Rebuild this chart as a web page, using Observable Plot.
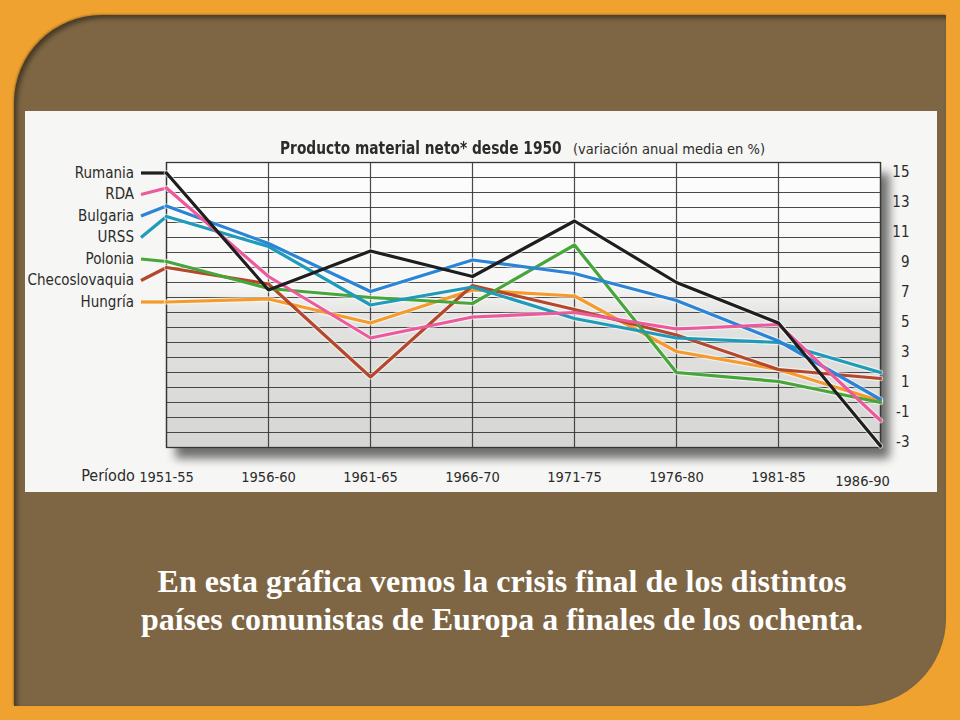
<!DOCTYPE html>
<html><head><meta charset="utf-8">
<script src="https://cdn.jsdelivr.net/npm/d3@7"></script>
<script src="https://cdn.jsdelivr.net/npm/@observablehq/plot@0.6"></script>
<style>
html,body{margin:0;padding:0;width:960px;height:720px;overflow:hidden;background:#efa22f;}
#panel{position:absolute;left:14px;top:15px;width:932px;height:691px;background:#7e6644;border-radius:88px 0 88px 0;box-shadow:inset 3px 3px 5px rgba(0,0,0,.45), -1px -1px 2px rgba(0,0,0,.25);}
#chart{position:absolute;left:25px;top:111px;width:912px;height:381px;background:#f6f6f4;}
#chart svg{position:absolute;left:0;top:0;}
.cond{font-family:"Liberation Sans Narrow","DejaVu Sans Condensed","Roboto",sans-serif;font-stretch:condensed;color:#2b2b2b;}
#title{position:absolute;left:255px;top:26px;font-size:18px;font-weight:bold;white-space:nowrap;transform:scaleX(0.85);transform-origin:0 50%;}
#subtitle{position:absolute;left:548px;top:30px;font-size:14.5px;white-space:nowrap;}
#caption{position:absolute;left:2px;width:1000px;top:562px;text-align:center;color:#fff;font-family:"Liberation Serif","Times New Roman",serif;font-weight:bold;font-size:32px;line-height:38px;}
</style></head>
<body>
<div id="panel"></div>
<div id="chart">
  <div id="title" class="cond">Producto material neto* desde 1950</div>
  <div id="subtitle" class="cond">(variación anual media en %)</div>
</div>
<div id="caption">En esta gráfica vemos la crisis final de los distintos<br>países comunistas de Europa a finales de los ochenta.</div>
<script>
const periods = ["1951-55","1956-60","1961-65","1966-70","1971-75","1976-80","1981-85","1986-90"];
const countries = ["Rumania","RDA","Bulgaria","URSS","Polonia","Checoslovaquia","Hungría"];
const colors = ["#1e1e1e","#ec5a9c","#2b84d6","#1d9bb9","#46a63a","#b4472c","#f49b2c"];
const rumania        = [14.3, 6.5, 9.1, 7.4, 11.1, 7.0, 4.3, -3.9];
const rda            = [13.3, 7.4, 3.3, 4.7,  5.0, 3.9, 4.2, -2.2];
const bulgaria       = [12.1, 9.6, 6.4, 8.5,  7.6, 5.8, 3.1, -0.8];
const urss           = [11.4, 9.4, 5.5, 6.7,  4.6, 3.3, 3.0,  1.0];
const polonia        = [ 8.4, 6.6, 6.0, 5.6,  9.5, 1.0, 0.4, -1.0];
const checoslovaquia = [ 8.0, 6.9, 0.7, 6.8,  5.2, 3.5, 1.2,  0.6];
const hungria        = [ 5.7, 5.9, 4.3, 6.5,  6.1, 2.4, 1.2, -0.9];
const yTickLabels = [15, 13, 11, 9, 7, 5, 3, 1, -1, -3];
const axisLabel = "Período";

const seriesValues = [rumania, rda, bulgaria, urss, polonia, checoslovaquia, hungria];
const rows = [];
seriesValues.forEach((vals, s) => vals.forEach((v, i) => rows.push({country: countries[s], order: s, i, v})));
rows.sort((a, b) => b.order - a.order || a.i - b.i);

const labelY = d3.scaleLinear().domain([0, countries.length - 1])
  .range([seriesValues[0][0], seriesValues[seriesValues.length - 1][0]]);
const leaders = countries.map((c, s) => ({country: c, ly: labelY(s), v0: seriesValues[s][0]}));

const last = periods.length - 1;
const periodIdx = d3.range(0, periods.length);

const font = '"Liberation Sans Narrow","DejaVu Sans Condensed","Roboto",sans-serif';

const svg = Plot.plot({
  width: 912, height: 381,
  marginLeft: 141, marginRight: 57, marginTop: 51, marginBottom: 45,
  x: {domain: [0, last], axis: null},
  y: {domain: [-4, 15], axis: null},
  color: {domain: countries, range: colors},
  style: {background: "transparent", fontFamily: font, fontSize: "15px", color: "#2b2b2b", overflow: "visible"},
  marks: [
    Plot.frame({fill: "#eeeeee", stroke: "none"}),
    Plot.gridY(d3.range(-4, 16), {stroke: "#363636", strokeOpacity: 0.9, strokeWidth: 1.2}),
    Plot.gridX(periodIdx, {stroke: "#363636", strokeOpacity: 0.9, strokeWidth: 1.2}),
    Plot.frame({stroke: "#363636", strokeWidth: 1.3}),
    Plot.text(periodIdx.filter(i => i < last), {x: d => d, frameAnchor: "bottom", dy: 34, text: i => periods[i], fontSize: 14.5, fill: "#2b2b2b"}),
    Plot.text([last], {x: d => d, frameAnchor: "bottom", dy: 38, dx: -18, text: i => periods[i], fontSize: 14.5, fill: "#2b2b2b"}),
    Plot.text(yTickLabels, {x: last, y: d => d, text: d => String(d), dx: 29, dy: 10, textAnchor: "end", fontSize: 15, fill: "#2b2b2b"}),
    Plot.text([axisLabel], {x: -0.31, frameAnchor: "bottom", dy: 33, text: d => d, textAnchor: "end", fontSize: 16, fill: "#2b2b2b"}),
    Plot.link(leaders, {x1: () => -0.25, y1: "ly", x2: () => 0, y2: "v0", stroke: "country", strokeWidth: 3.2}),
    Plot.line(rows, {x: "i", y: "v", z: "country", stroke: "#ffffff", strokeWidth: 5.5, strokeOpacity: 0.55}),
    Plot.line(rows, {x: "i", y: "v", z: "country", stroke: "country", strokeWidth: 3.2, strokeLinejoin: "miter"}),
    Plot.text(leaders, {x: () => -0.25, y: "ly", text: "country", textAnchor: "end", dx: -7, fontSize: 15, fill: "#2b2b2b"})
  ]
});

const defs = d3.select(svg).insert("defs", ":first-child");
const g = defs.append("linearGradient").attr("id", "bgGrad").attr("x1", 0).attr("y1", 0).attr("x2", 0).attr("y2", 1);
[["0%", "#fdfdfd"], ["42%", "#f7f7f6"], ["55%", "#e2e2e1"], ["100%", "#d6d6d5"]].forEach(([o, c]) => g.append("stop").attr("offset", o).attr("stop-color", c));
const fr = svg.querySelector('[aria-label="frame"]');
const r = fr.tagName.toLowerCase() === "rect" ? fr : fr.querySelector("rect");
r.setAttribute("fill", "url(#bgGrad)");
r.style.filter = "drop-shadow(9px 11px 5px rgba(0,0,0,0.55))";
document.getElementById("chart").insertBefore(svg, document.getElementById("chart").firstChild);
</script>
</body></html>
